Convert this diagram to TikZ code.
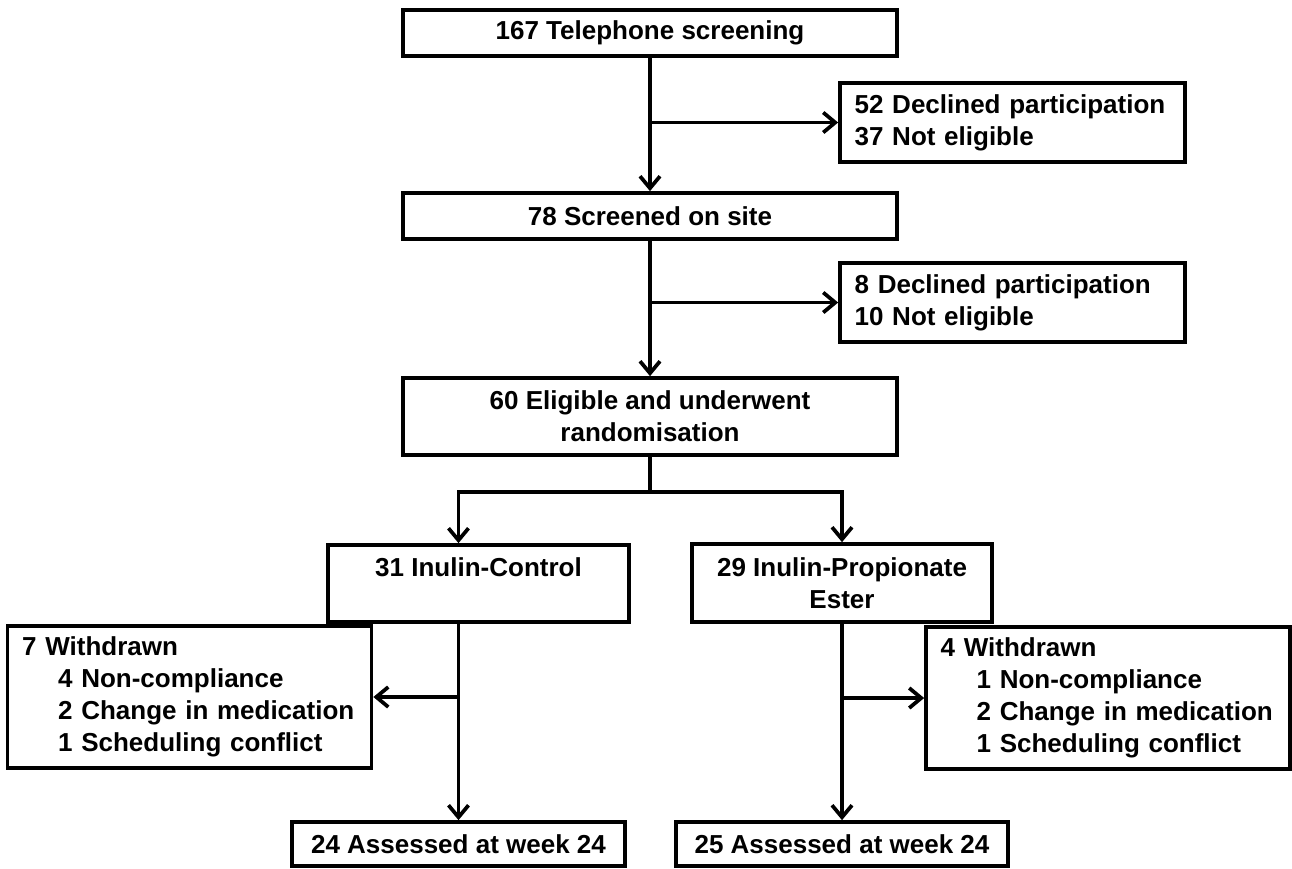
\documentclass[tikz,border=0pt]{standalone}
\usepackage{fontspec}
\setmainfont{Liberation Sans}
\usetikzlibrary{arrows.meta, positioning}
\newcommand{\indentby}{\hspace*{27pt}}
\tikzset{
    block/.style={rectangle, draw, line width=2.8pt, fill=white, align=center, inner sep=0pt, font=\bfseries\fontsize{19.5}{24}\selectfont},
    sidebox/.style={block, align=left, inner xsep=11pt, text width=236.75pt, minimum height=59.25pt},
    dropbox/.style={block, align=left, inner xsep=11pt, text width=251pt, minimum height=106.5pt},
    arrow/.style={line width=2.8pt, -{Straight Barb[length=9pt, width=15pt]}}
}
\begin{document}
\begin{tikzpicture}[x=0.75pt, y=-0.75pt]
    \useasboundingbox (0,0) rectangle (1292,868);

    % Screening stages
    \node (Phone) [block, minimum width=370.5pt, minimum height=34.5pt] at (650,33) {167 Telephone screening};
    \node (Site) [block, minimum width=370.5pt, minimum height=34.5pt] at (650,216) {78 Screened on site};
    \node (Random) [block, minimum width=370.5pt, minimum height=57.75pt] at (650,416.5) {60 Eligible and underwent\\randomisation};

    % Exclusions
    \node (Excl1) [sidebox] at (1012.5,122.5) {52 Declined participation\\37 Not eligible};
    \node (Excl2) [sidebox] at (1012.5,302.5) {8 Declined participation\\10 Not eligible};

    % Arms
    \node (Control) [block, minimum width=225.75pt, minimum height=57.75pt] at (478.5,583.5) {31 Inulin-Control\\\phantom{Ester}};
    \node (Ester) [block, minimum width=225pt, minimum height=58.5pt] at (842,583) {29 Inulin-Propionate\\Ester};

    % Withdrawals
    \node (Drop1) [dropbox] at (189.5,697) {7 Withdrawn\\\indentby 4 Non-compliance\\\indentby 2 Change in medication\\\indentby 1 Scheduling conflict};
    \node (Drop2) [dropbox] at (1108,698) {4 Withdrawn\\\indentby 1 Non-compliance\\\indentby 2 Change in medication\\\indentby 1 Scheduling conflict};

    % Assessed
    \node (Done1) [block, minimum width=249.75pt, minimum height=33pt] at (458.5,844) {24 Assessed at week 24};
    \node (Done2) [block, minimum width=249pt, minimum height=33pt] at (842,844) {25 Assessed at week 24};

    \coordinate (Split) at (650,492);

    % Screening flow
    \draw[arrow] (Phone) -- (Site);
    \draw[arrow] (Phone.south |- Excl1.west) -- (Excl1.west);
    \draw[arrow] (Site) -- (Random);
    \draw[arrow] (Site.south |- Excl2.west) -- (Excl2.west);

    % Randomisation
    \draw[arrow] (Random.south) -- (Split) -| (Done1.north |- Control.north);
    \draw[arrow] (Split) -| (Ester.north);

    % Follow-up
    \draw[arrow] (Done1.north |- Control.south) -- (Done1.north);
    \draw[arrow] (Done1.north |- Drop1.east) -- (Drop1.east);
    \draw[arrow] (Ester.south) -- (Done2.north);
    \draw[arrow] (Ester.south |- Drop2.west) -- (Drop2.west);
\end{tikzpicture}
\end{document}
